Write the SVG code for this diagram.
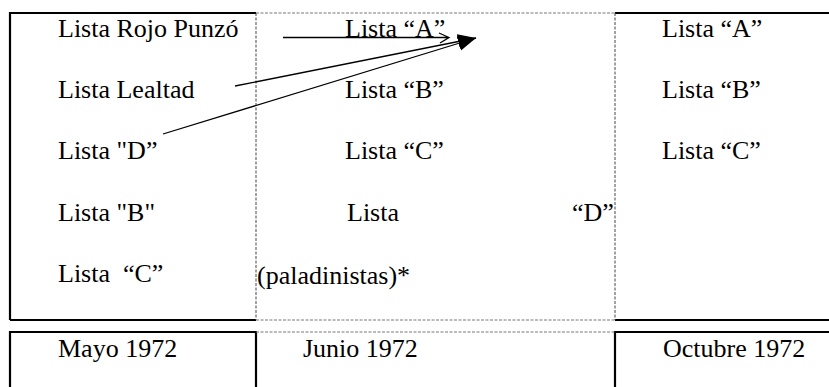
<svg xmlns="http://www.w3.org/2000/svg" width="829" height="387" viewBox="0 0 829 387">
<style>
text{font-family:"Liberation Serif","Times New Roman",serif;font-size:26px;fill:#000}
.thick{stroke:#000;stroke-width:2.2;fill:none}
.dash{stroke:#444;stroke-width:1;stroke-dasharray:3,1.5;fill:none}
.dashg{stroke:#777;stroke-width:1;stroke-dasharray:3,1.5;fill:none}
.conn{stroke:#000;stroke-width:1.3;fill:none}
</style>
<defs>
<marker id="ah" markerUnits="userSpaceOnUse" markerWidth="20" markerHeight="16" refX="18" refY="7.5" orient="auto">
<path d="M0,0 L18,7.5 L0,15 z" fill="#000"/>
</marker>
</defs>
<rect width="829" height="387" fill="#fff"/>
<g id="frame">
<path class="thick" d="M10,320 V13 H256 M10,320 H256 M615,13 H829 M615,320 H829 M10,387 V332 H256 V387 M615,387 V332 H829"/>
<path class="dash" d="M256,13 V320 M615,13 V320"/>
<path class="dashg" d="M256,13 H615 M256,320 H615 M256,332 H615"/>
</g>
<g id="col-mayo">
<g id="mayo-1"><text x="58" y="37">Lista Rojo Punzó</text></g>
<g id="mayo-2"><text x="58" y="98">Lista Lealtad</text></g>
<g id="mayo-3"><text x="58" y="159">Lista "D”</text></g>
<g id="mayo-4"><text x="58" y="221">Lista "B"</text></g>
<g id="mayo-5"><text x="58" y="282">Lista &#160;“C”</text></g>
</g>
<g id="col-junio">
<g id="junio-1"><text x="345" y="37">Lista “A”</text></g>
<g id="junio-2"><text x="345" y="98">Lista “B”</text></g>
<g id="junio-3"><text x="345" y="159">Lista “C”</text></g>
<g id="junio-4"><text x="347" y="221">Lista</text><text x="572" y="221">“D”</text></g>
<g id="junio-5"><text x="257" y="284">(paladinistas)*</text></g>
</g>
<g id="col-octubre">
<g id="oct-1"><text x="662" y="37">Lista “A”</text></g>
<g id="oct-2"><text x="662" y="98">Lista “B”</text></g>
<g id="oct-3"><text x="662" y="159">Lista “C”</text></g>
</g>
<g id="dates">
<g id="d-mayo"><text x="58" y="357">Mayo 1972</text></g>
<g id="d-junio"><text x="303" y="357">Junio 1972</text></g>
<g id="d-oct"><text x="663" y="357">Octubre 1972</text></g>
</g>
<g id="connectors">
<path class="conn" d="M283,37.5 H449 M439,33 L449,37.5 L440,43"/>
<line class="conn" x1="235" y1="86" x2="476" y2="38" marker-end="url(#ah)"/>
<line class="conn" x1="163" y1="134" x2="476" y2="38" marker-end="url(#ah)"/>
</g>
</svg>
